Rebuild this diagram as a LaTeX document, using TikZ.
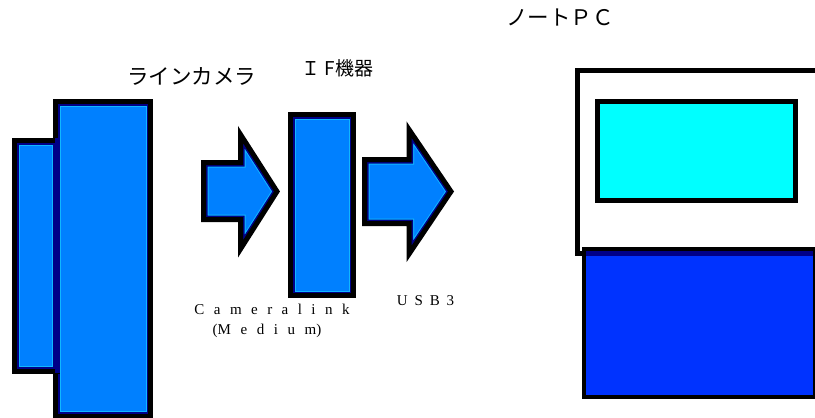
\documentclass[tikz,border=0pt]{standalone}
\usepackage{fontspec}
\setmainfont{Liberation Serif}
\newfontfamily\jpfont{Noto Sans CJK JP}[Scale=1]
\newfontfamily\wideserif{Liberation Serif}
\definecolor{PartBlue}{HTML}{0080FF}
\definecolor{PartGlow}{HTML}{10B8FF}
\definecolor{PartNavy}{HTML}{000088}
\definecolor{KeyBlue}{HTML}{0033FF}
\definecolor{ScreenCyan}{HTML}{00FFFF}
\tikzset{
    PartLine/.style={draw=black,line width=5pt,miter limit=10},
    CapLabel/.style={inner sep=0pt,font=\fontsize{15}{15}\selectfont\wideserif},
    JpLabel/.style={inner sep=0pt,font=\fontsize{21.5}{21.5}\selectfont\jpfont},
}
% filled part with black outline and a thin inner ring
\newcommand\BluePart[2]{%
    \fill[#1] #2;
    \begin{scope}
        \clip #2;
        \draw[PartGlow,line width=10pt] #2;
        \draw[PartNavy,line width=8pt] #2;
    \end{scope}
    \draw[PartLine] #2;
}
\newcommand\BlockArrow[7]{% left, back, tip, shaft top, shaft bottom, head top, head bottom
    \BluePart{PartBlue}{(#1,#4) -- (#2,#4) -- (#2,#6) -- (#3,191.5) -- (#2,#7) -- (#2,#5) -- (#1,#5) -- cycle}
}
\begin{document}
\begin{tikzpicture}[x=1pt,y=-1pt]
    \useasboundingbox[fill=white] (0,0) rectangle (815,418);
    % line camera
    \BluePart{PartBlue}{(55.5,101.5) rectangle (150.5,416)}
    \BluePart{PartBlue}{(14.5,140.5) rectangle (57,371)}
    \draw[PartNavy,line width=5pt] (57,138) -- (57,373);
    % arrows and IF box
    \BlockArrow{203.5}{240.5}{277}{162.5}{219.5}{134.5}{249}
    \BluePart{PartBlue}{(290.5,114.5) rectangle (353.5,295.5)}
    \BlockArrow{364.5}{409}{451}{159.5}{223.5}{129.5}{254}
    % note PC
    \draw[line width=5pt] (830,70.5) -- (577.5,70.5) -- (577.5,253.5) -- (586,253.5);
    \draw[PartLine,fill=ScreenCyan] (597.5,101.5) rectangle (795.5,200.5);
    \fill[KeyBlue] (584,250) rectangle (830,397);
    \fill[PartNavy] (584,250) rectangle (830,256);
    \draw[draw=black,line width=4pt] (584,249) rectangle (814.5,397);
    % labels
    \node[JpLabel] (CameraLabel) at (191.5,76) {ラインカメラ};
    \node[JpLabel,font=\fontsize{19}{19}\selectfont\jpfont] (IfLabel) at (337.5,68) {Ｉ F機器};
    \node[CapLabel] (LinkLabel) at (272,309) {\addfontfeature{LetterSpace=63}Cameralink};
    \node[CapLabel] (MediumLabel) at (267,331) {\addfontfeature{LetterSpace=64}(\kern0pt Medium\kern0pt)};
    \node[CapLabel] (UsbLabel) at (425.5,301) {\addfontfeature{LetterSpace=46}USB3};
    \node[JpLabel] (PcLabel) at (560,17) {ノートＰＣ};
\end{tikzpicture}
\end{document}
